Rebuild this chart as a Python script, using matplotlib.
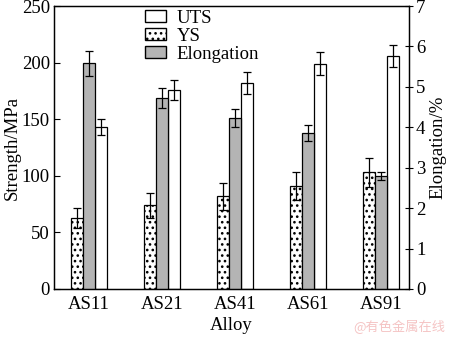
import numpy as np
import matplotlib.pyplot as plt
from matplotlib.patches import Patch

alloys = ['AS11', 'AS21', 'AS41', 'AS61', 'AS91']
ys = [63, 74, 82, 91, 103]
ys_err = [9, 11, 12, 12, 13]
uts = [143, 176, 182, 199, 206]
uts_err = [7, 9, 10, 10, 10]
elong = [5.58, 4.73, 4.24, 3.87, 2.80]
elong_err = [0.30, 0.25, 0.22, 0.20, 0.10]

plt.rcParams['font.family'] = ['Liberation Serif', 'DejaVu Serif']
plt.rcParams['hatch.linewidth'] = 1.1

fs = 13.5
fig = plt.figure(figsize=(4.5, 3.38), dpi=100)
ax = fig.add_axes([0.12, 0.145, 0.789, 0.837])
ax2 = ax.twinx()

x = np.arange(len(alloys))
w = 0.164
ekw = dict(ecolor='black', elinewidth=0.9, capsize=3, capthick=0.9)

ax.bar(x - w, ys, w, yerr=ys_err, color='white', edgecolor='black',
       linewidth=0.9, hatch='...', error_kw=ekw, zorder=2)
ax.bar(x + w, uts, w, yerr=uts_err, color='white', edgecolor='black',
       linewidth=0.9, error_kw=ekw, zorder=2)
ax2.bar(x, elong, w, yerr=elong_err, color='#b4b4b4', edgecolor='black',
        linewidth=0.9, error_kw=ekw, zorder=2)

ax.set_xlim(-0.48, 4.38)
ax.set_ylim(0, 250)
ax2.set_ylim(0, 7)
ax.set_yticks([0, 50, 100, 150, 200, 250])
ax2.set_yticks(range(8))
ax.set_xticks(x)
ax.set_xticklabels(alloys)

ax.tick_params(axis='y', direction='in', length=4, labelsize=fs, pad=3)
ax.tick_params(axis='x', length=0, labelsize=fs, pad=5)
ax2.tick_params(axis='y', direction='inout', length=6, labelsize=fs, pad=2)

ax.set_ylabel('Strength/MPa', fontsize=fs, labelpad=1)
ax2.set_ylabel('Elongation/%', fontsize=fs, labelpad=3)
ax.set_xlabel('Alloy', fontsize=fs, labelpad=3)

for a in (ax, ax2):
    for s in a.spines.values():
        s.set_linewidth(0.9)

handles = [Patch(facecolor='white', edgecolor='black', label='UTS'),
           Patch(facecolor='white', edgecolor='black', hatch='...', label='YS'),
           Patch(facecolor='#b4b4b4', edgecolor='black', label='Elongation')]
ax2.legend(handles=handles, loc='upper left', bbox_to_anchor=(0.235, 1.013),
           frameon=False, fontsize=fs, handlelength=1.1, handleheight=0.6,
           handletextpad=0.6, labelspacing=0.05, borderaxespad=0)

fig.text(0.99, 0.012, '@有色金属在线', color='#f5c4c4', fontsize=9.5,
         ha='right', va='bottom', family=['Noto Sans CJK SC', 'DejaVu Sans'])

fig.savefig('out.png', dpi=100)
